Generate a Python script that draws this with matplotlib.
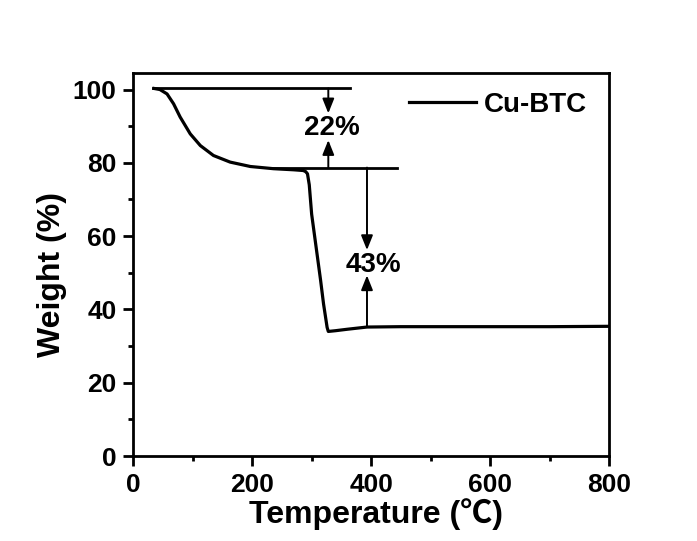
import matplotlib
matplotlib.use("Agg")
import matplotlib.pyplot as plt

plt.rcParams['font.family'] = ['Liberation Sans', 'Noto Sans CJK SC', 'DejaVu Sans']
plt.rcParams['font.weight'] = 'bold'

# TGA curve of Cu-BTC
temperature = [35, 45, 57, 68, 79, 96, 113, 135, 163, 197, 236, 270, 286, 290,
               293, 296, 298, 300, 305, 310, 315, 320, 326, 328, 340, 360, 393,
               450, 500, 600, 700, 800]
weight = [100.3, 100.0, 98.8, 96.1, 92.5, 87.9, 84.7, 82.0, 80.2, 79.0, 78.4, 78.1,
          77.9, 77.6, 77.0, 74.0, 70.0, 66.0, 60.0, 54.0, 48.0, 41.5, 35.1, 34.0,
          34.2, 34.6, 35.2, 35.3, 35.3, 35.3, 35.3, 35.4]

# annotation levels
top_level = 100.3
mid_level = 78.7
low_level = 35.3
step1_label = "22%"
step2_label = "43%"

fig = plt.figure(figsize=(6.97, 5.41), dpi=100)
ax = fig.add_axes([0.191, 0.157, 0.683, 0.708])

ax.plot(temperature, weight, color='black', lw=2.3, label='Cu-BTC')

# reference lines
ax.plot([34, 365], [top_level, top_level], color='black', lw=2.0)
ax.plot([233, 444], [mid_level, mid_level], color='black', lw=2.0)

arrow = dict(arrowstyle='-|>,head_length=0.55,head_width=0.22', color='black',
             lw=1.4, mutation_scale=16, shrinkA=0, shrinkB=0)
# 22% step
ax.annotate('', xy=(328, 93.5), xytext=(328, top_level), arrowprops=arrow)
ax.annotate('', xy=(328, 86.2), xytext=(328, mid_level), arrowprops=arrow)
ax.text(334, 89.4, step1_label, ha='center', va='center', fontsize=20, fontweight='bold')
# 43% step
ax.annotate('', xy=(393, 56.2), xytext=(393, mid_level), arrowprops=arrow)
ax.annotate('', xy=(393, 49.3), xytext=(393, low_level), arrowprops=arrow)
ax.text(404, 52.2, step2_label, ha='center', va='center', fontsize=20, fontweight='bold')

ax.set_xlim(0, 800)
ax.set_ylim(0, 104.5)
ax.set_xticks([0, 200, 400, 600, 800])
ax.set_xticks([100, 300, 500, 700], minor=True)
ax.set_yticks([0, 20, 40, 60, 80, 100])
ax.set_yticks([10, 30, 50, 70, 90], minor=True)

ax.tick_params(which='major', direction='out', length=7, width=2, labelsize=19, pad=5)
ax.tick_params(which='minor', direction='out', length=3.5, width=2)
for lab in ax.get_xticklabels() + ax.get_yticklabels():
    lab.set_fontweight('bold')
for sp in ax.spines.values():
    sp.set_linewidth(2.0)

ax.set_xlabel('Temperature (℃)', fontsize=23, fontweight='bold', labelpad=1, x=0.51)
ax.set_ylabel('Weight (%)', fontsize=23, fontweight='bold', labelpad=4, y=0.475)

leg = ax.legend(loc='upper left', bbox_to_anchor=(0.527, 1.016), frameon=False,
                handlelength=2.4, handletextpad=0.3,
                prop={'weight': 'bold', 'size': 20})

fig.savefig('out.png', dpi=100)
